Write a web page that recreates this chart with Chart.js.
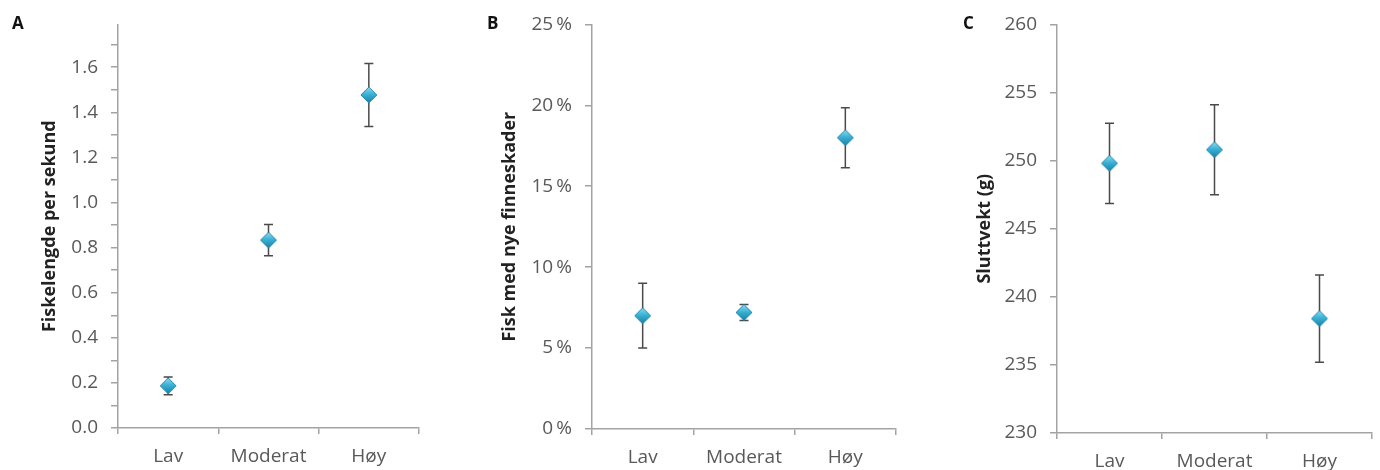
<!DOCTYPE html>
<html>
<head>
<meta charset="utf-8">
<script src="https://cdn.jsdelivr.net/npm/chart.js@4"></script>
<style>
  html, body { margin:0; padding:0; background:#fff; }
  #wrap { position:relative; width:1380px; height:470px; overflow:hidden; }
  .panel { position:absolute; top:0; width:460px; height:470px; }
  .letter { position:absolute; top:14px; font:bold 17px "Open Sans", sans-serif; line-height:17px; color:#111; }
</style>
</head>
<body>
<div id="wrap">
  <div class="panel" style="left:0"><canvas id="cA" width="460" height="470"></canvas></div>
  <div class="panel" style="left:460px"><canvas id="cB" width="460" height="470"></canvas></div>
  <div class="panel" style="left:920px"><canvas id="cC" width="460" height="470"></canvas></div>
  <div class="letter" style="left:12px">A</div>
  <div class="letter" style="left:487px">B</div>
  <div class="letter" style="left:963px">C</div>
</div>
<script>
// ---- data ----
const categories = ['Lav', 'Moderat', 'Høy'];

const speedMeans = [0.187, 0.833, 1.477];
const speedErr   = [0.039, 0.069, 0.140];
const speedTicks = [0.0, 0.1, 0.2, 0.3, 0.4, 0.5, 0.6, 0.7, 0.8, 0.9, 1.0, 1.1, 1.2, 1.3, 1.4, 1.5, 1.6, 1.7];
const speedLabelled = [0.0, 0.2, 0.4, 0.6, 0.8, 1.0, 1.2, 1.4, 1.6];

const finMeans = [7.0, 7.2, 18.0];
const finErr   = [2.0, 0.5, 1.85];
const finTicks = [0, 5, 10, 15, 20, 25];

const weightMeans = [249.8, 250.8, 238.4];
const weightErr   = [2.95, 3.3, 3.2];
const weightTicks = [230, 235, 240, 245, 250, 255, 260];

// ---- marker image ----
function makeDiamond() {
  const c = document.createElement('canvas');
  const s = 18; c.width = s; c.height = s;
  const g = c.getContext('2d');
  const r = 8, cx = s/2, cy = s/2;
  g.beginPath();
  g.moveTo(cx, cy - r); g.lineTo(cx + r, cy); g.lineTo(cx, cy + r); g.lineTo(cx - r, cy); g.closePath();
  const grad = g.createLinearGradient(0, cy - r, 0, cy + r);
  grad.addColorStop(0, '#8fdcf0');
  grad.addColorStop(0.45, '#3ab2d6');
  grad.addColorStop(1, '#1a7fa2');
  g.fillStyle = grad; g.fill();
  g.lineWidth = 1; g.strokeStyle = '#2a8db0'; g.stroke();
  return c;
}
const diamond = makeDiamond();

// ---- error bar plugin ----
const errorBars = {
  id: 'errorBars',
  beforeDatasetsDraw(chart) {
    const ctx = chart.ctx;
    const ds = chart.data.datasets[0];
    const meta = chart.getDatasetMeta(0);
    const ys = chart.scales.y;
    ctx.save();
    ctx.strokeStyle = '#4a4a4a';
    ctx.lineWidth = 1.5;
    meta.data.forEach((pt, i) => {
      const v = ds.data[i], e = ds.errors[i];
      const yt = ys.getPixelForValue(v + e), yb = ys.getPixelForValue(v - e);
      const x = pt.x;
      ctx.beginPath();
      ctx.moveTo(x, yt); ctx.lineTo(x, yb);
      ctx.moveTo(x - 4.5, yt); ctx.lineTo(x + 4.5, yt);
      ctx.moveTo(x - 4.5, yb); ctx.lineTo(x + 4.5, yb);
      ctx.stroke();
    });
    ctx.restore();
  }
};

const axisColor = '#a3a3a3';
const tickFont = { family: '"Open Sans", sans-serif', size: 19 };
const catFont = { family: '"Open Sans", sans-serif', size: 19 };
const titleFont = { family: '"Open Sans", sans-serif', size: 18, weight: 'bold' };

function makeChart(id, opts) {
  return new Chart(document.getElementById(id), {
    type: 'line',
    data: {
      labels: categories,
      datasets: [{
        data: opts.means,
        errors: opts.errs,
        showLine: false,
        pointStyle: diamond,
        pointRadius: 8,
        pointHoverRadius: 8
      }]
    },
    options: {
      responsive: false,
      animation: false,
      events: [],
      layout: { autoPadding: false, padding: { top: opts.top, right: 460 - opts.right, bottom: 0, left: 0 } },
      plugins: { legend: { display: false }, tooltip: { enabled: false } },
      scales: {
        x: {
          type: 'category',
          offset: true,
          grid: { offset: true, drawOnChartArea: false, tickLength: 6, color: axisColor, lineWidth: 1.5 },
          border: { color: axisColor, width: 1.5 },
          ticks: { color: '#595959', font: catFont, padding: 11, maxRotation: 0 },
          afterFit(s) { s.height = 470 - opts.bottom; }
        },
        y: {
          min: opts.min, max: opts.max,
          afterBuildTicks(s) { s.ticks = opts.ticks.map(v => ({ value: v })); },
          grid: { drawOnChartArea: false, tickLength: 7, color: axisColor, lineWidth: 1.5 },
          border: { color: axisColor, width: 1.5 },
          ticks: { color: '#595959', font: tickFont, padding: 13, callback: opts.fmt, autoSkip: false },
          title: { display: true, text: opts.title, color: '#222', font: titleFont, padding: { top: opts.titleX - 11, bottom: 0 } },
          afterFit(s) { s.width = opts.left; }
        }
      }
    },
    plugins: [errorBars]
  });
}

makeChart('cA', {
  means: speedMeans, errs: speedErr, min: 0, max: 1.79, ticks: speedTicks,
  fmt: v => speedLabelled.some(t => Math.abs(t - v) < 1e-6) ? v.toFixed(1) : '',
  title: 'Fiskelengde per sekund', left: 118, right: 419, top: 23, bottom: 428, titleX: 50
});
makeChart('cB', {
  means: finMeans, errs: finErr, min: 0, max: 25, ticks: finTicks,
  fmt: v => v + '\u2009%',
  title: 'Fisk med nye finneskader', left: 132, right: 436, top: 24, bottom: 429, titleX: 50
});
makeChart('cC', {
  means: weightMeans, errs: weightErr, min: 230, max: 260, ticks: weightTicks,
  fmt: v => String(v),
  title: 'Sluttvekt (g)', left: 137, right: 452, top: 23, bottom: 433, titleX: 65
});
</script>
</body>
</html>
